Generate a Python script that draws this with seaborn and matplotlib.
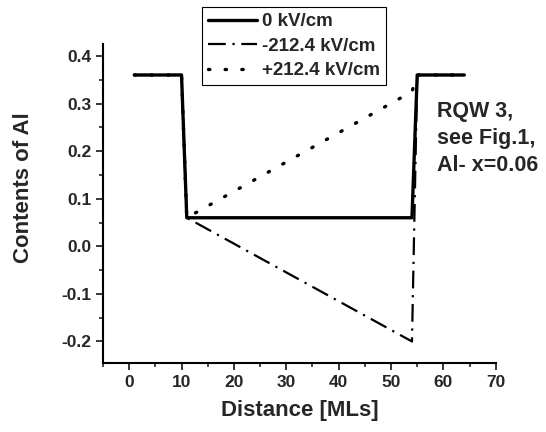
import numpy as np
import pandas as pd
import seaborn as sns
import matplotlib
matplotlib.use("Agg")
import matplotlib.pyplot as plt
from matplotlib.ticker import MultipleLocator, FormatStrFormatter

# profile of Al content across the quantum well, distance in monolayers
x_zero = [1, 10, 11, 54, 55, 64]
y_zero = [0.36, 0.36, 0.06, 0.06, 0.36, 0.36]

x_neg = [1, 10, 11, 54, 55, 64]
y_neg = [0.36, 0.36, 0.06, -0.2, 0.36, 0.36]

x_pos = [1, 10, 11, 54, 55, 64]
y_pos = [0.36, 0.36, 0.06, 0.325, 0.36, 0.36]

labels = ["0 kV/cm", "-212.4 kV/cm", "+212.4 kV/cm"]

sns.set_style("ticks")
plt.rcParams["font.family"] = ["Liberation Sans", "DejaVu Sans"]
plt.rcParams["font.weight"] = "bold"
plt.rcParams["axes.unicode_minus"] = False

fig, ax = plt.subplots(figsize=(5.46, 4.32), dpi=100)
fig.subplots_adjust(left=0.1886, right=0.908, bottom=0.16, top=0.898)

sns.lineplot(x=x_zero, y=y_zero, ax=ax, color="black", lw=2.4,
             sort=False, estimator=None, label=labels[0])
sns.lineplot(x=x_neg, y=y_neg, ax=ax, color="black", lw=1.6,
             sort=False, estimator=None, label=labels[1])
sns.lineplot(x=x_pos, y=y_pos, ax=ax, color="black", lw=2.4,
             sort=False, estimator=None, label=labels[2])

lines = ax.get_lines()
lines[1].set_linestyle((0, (8, 3, 1, 3)))
lines[2].set_linestyle((0, (0.4, 4.6)))
lines[2].set_dash_capstyle("round")
# keep solid line on top
lines[0].set_zorder(5)

ax.set_xlim(-5, 70)
ax.set_ylim(-0.245, 0.425)
ax.xaxis.set_major_locator(MultipleLocator(10))
ax.xaxis.set_minor_locator(MultipleLocator(5))
ax.yaxis.set_major_locator(MultipleLocator(0.1))
ax.yaxis.set_minor_locator(MultipleLocator(0.05))
ax.yaxis.set_major_formatter(FormatStrFormatter("%.1f"))
ax.tick_params(which="major", length=5, width=1.3, labelsize=12.5, direction="out")
ax.tick_params(which="minor", length=3, width=1.2, direction="out")
for lab in ax.get_xticklabels() + ax.get_yticklabels():
    lab.set_fontweight("bold")

sns.despine(ax=ax)
for s in ["left", "bottom"]:
    ax.spines[s].set_linewidth(1.5)
    ax.spines[s].set_color("black")

ax.set_xlabel("Distance [MLs]", fontsize=16, fontweight="bold")
ax.set_ylabel("Contents of Al", fontsize=16, fontweight="bold")
ax.xaxis.set_label_coords(0.5, -0.115)
ax.yaxis.set_label_coords(-0.175, 0.549)

ax.text(58.8, 0.305, "RQW 3,\nsee Fig.1,\nAl- x=0.06", fontsize=15.5,
        fontweight="bold", va="top", ha="left", linespacing=1.38)

leg = ax.legend(loc="upper center", bbox_to_anchor=(0.539, 0.983),
                bbox_transform=fig.transFigure, fontsize=13.5,
                frameon=True, fancybox=False, framealpha=1,
                handlelength=2.6, handletextpad=0.3, labelspacing=0.4,
                borderpad=0.3, borderaxespad=0)
leg.get_frame().set_edgecolor("black")
leg.get_frame().set_linewidth(0.8)
for t in leg.get_texts():
    t.set_fontweight("bold")

fig.savefig("out.png", dpi=100)
